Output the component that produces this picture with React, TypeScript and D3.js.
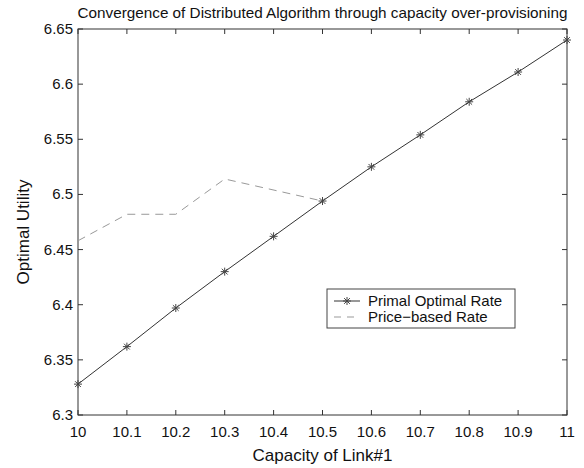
import React from "react";
import * as d3 from "d3";

const capacity = [10, 10.1, 10.2, 10.3, 10.4, 10.5, 10.6, 10.7, 10.8, 10.9, 11];
const primalRate = [6.328, 6.362, 6.397, 6.430, 6.462, 6.494, 6.525, 6.554, 6.584, 6.611, 6.640];
const priceCapacity = [10, 10.1, 10.2, 10.3, 10.5];
const priceRate = [6.458, 6.482, 6.482, 6.514, 6.494];
const xTicks = [10, 10.1, 10.2, 10.3, 10.4, 10.5, 10.6, 10.7, 10.8, 10.9, 11];
const yTicks = [6.3, 6.35, 6.4, 6.45, 6.5, 6.55, 6.6, 6.65];
const title = "Convergence of Distributed Algorithm through capacity over-provisioning";
const xLabel = "Capacity of Link#1";
const yLabel = "Optimal Utility";
const legendLabels = ["Primal Optimal Rate", "Price\u2212based Rate"];

const W = 584, H = 468;
const L = 78, R = 567, T = 29, B = 415;
const font = "'Liberation Sans', Arial, Helvetica, sans-serif";

function Star({ x, y, s = 4, color }: { x: number; y: number; s?: number; color: string }) {
  const d = s * 0.72;
  return (
    <g stroke={color} strokeWidth={1}>
      <line x1={x - s} y1={y} x2={x + s} y2={y} />
      <line x1={x} y1={y - s} x2={x} y2={y + s} />
      <line x1={x - d} y1={y - d} x2={x + d} y2={y + d} />
      <line x1={x - d} y1={y + d} x2={x + d} y2={y - d} />
    </g>
  );
}

export default function App() {
  const x = d3.scaleLinear().domain([10, 11]).range([L, R]);
  const y = d3.scaleLinear().domain([6.3, 6.65]).range([B, T]);
  const line = d3.line<number>().x((_, i) => x(capacity[i])).y((v) => y(v));
  const line2 = d3.line<number>().x((_, i) => x(priceCapacity[i])).y((v) => y(v));
  const fmt = (v: number) => String(+v.toFixed(2));
  const tl = 5;
  const lgX = 327, lgY = 289, lgW = 188, lgH = 39;
  return (
    <svg width={W} height={H} style={{ position: "absolute", left: 0, top: 0, background: "#fff" }} fontFamily={font}>
      <rect x={0} y={0} width={W} height={H} fill="#fff" />
      <text x={(L + R) / 2} y={18} textAnchor="middle" fontSize={15} textLength={490} lengthAdjust="spacingAndGlyphs" fill="#111">{title}</text>
      {/* ticks */}
      <g stroke="#333" strokeWidth={1}>
        {xTicks.map((t) => (
          <g key={"xt" + t}>
            <line x1={x(t)} x2={x(t)} y1={B} y2={B - tl} />
            <line x1={x(t)} x2={x(t)} y1={T} y2={T + tl} />
          </g>
        ))}
        {yTicks.map((t) => (
          <g key={"yt" + t}>
            <line x1={L} x2={L + tl} y1={y(t)} y2={y(t)} />
            <line x1={R} x2={R - tl} y1={y(t)} y2={y(t)} />
          </g>
        ))}
      </g>
      <rect x={L} y={T} width={R - L} height={B - T} fill="none" stroke="#333" strokeWidth={1} />
      {xTicks.map((t) => (
        <text key={"xl" + t} x={x(t)} y={B + 22} textAnchor="middle" fontSize={15} fill="#111">{fmt(t)}</text>
      ))}
      {yTicks.map((t) => (
        <text key={"yl" + t} x={L - 5} y={y(t) + 5} textAnchor="end" fontSize={15} fill="#111">{fmt(t)}</text>
      ))}
      <text x={(L + R) / 2} y={B + 46} textAnchor="middle" fontSize={17} fill="#111">{xLabel}</text>
      <text transform={`translate(29,${232}) rotate(-90)`} textAnchor="middle" fontSize={17} fill="#111">{yLabel}</text>
      {/* series */}
      <path d={line2(priceRate) || ""} fill="none" stroke="#999" strokeWidth={1} strokeDasharray="8,6" />
      <path d={line(primalRate) || ""} fill="none" stroke="#333" strokeWidth={1} />
      {primalRate.map((v, i) => (
        <Star key={"s" + i} x={x(capacity[i])} y={y(v)} color="#444" />
      ))}
      {/* legend */}
      <rect x={lgX} y={lgY} width={lgW} height={lgH} fill="#fff" stroke="#444" strokeWidth={1} />
      <line x1={lgX + 7} x2={lgX + 33} y1={lgY + 12} y2={lgY + 12} stroke="#333" />
      <Star x={lgX + 20} y={lgY + 12} color="#444" />
      <line x1={lgX + 7} x2={lgX + 33} y1={lgY + 28} y2={lgY + 28} stroke="#999" strokeDasharray="7,6" />
      <text x={lgX + 41} y={lgY + 17} fontSize={15} fill="#111">{legendLabels[0]}</text>
      <text x={lgX + 41} y={lgY + 33} fontSize={15} fill="#111">{legendLabels[1]}</text>
    </svg>
  );
}
